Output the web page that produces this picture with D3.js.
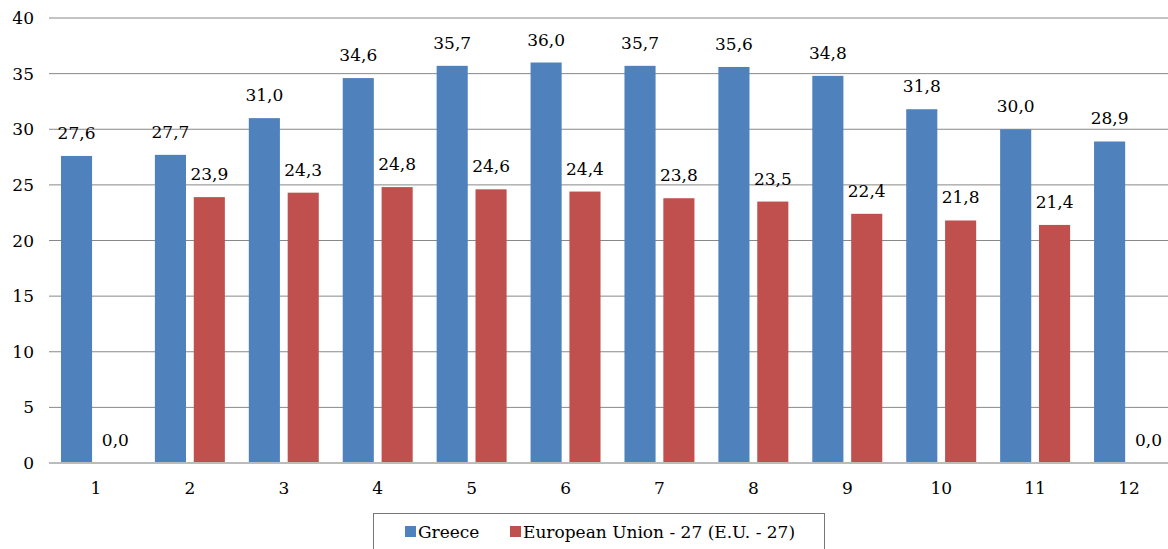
<!DOCTYPE html>
<html>
<head>
<meta charset="utf-8">
<script src="https://cdn.jsdelivr.net/npm/d3@7"></script>
<style>
  body { margin: 0; background: #fff; }
  text { font-family: "DejaVu Serif", serif; fill: #000; }
</style>
</head>
<body>
<svg width="1168" height="549"></svg>
<script>
const categories = ["1", "2", "3", "4", "5", "6", "7", "8", "9", "10", "11", "12"];
const seriesNames = ["Greece", "European Union - 27 (E.U. - 27)"];
const greece = [27.6, 27.7, 31.0, 34.6, 35.7, 36.0, 35.7, 35.6, 34.8, 31.8, 30.0, 28.9];
const eu27 = [0.0, 23.9, 24.3, 24.8, 24.6, 24.4, 23.8, 23.5, 22.4, 21.8, 21.4, 0.0];
const yTicks = [0, 5, 10, 15, 20, 25, 30, 35, 40];
const colors = ["#4F81BD", "#C0504D"];

const svg = d3.select("svg");

const x = d3.scaleBand().domain(categories).range([49, 1176]).paddingInner(0.255).paddingOuter(0.1275);
const xs = d3.scaleBand().domain(seriesNames).range([0, x.bandwidth()]).paddingInner(0.2);
const y = d3.scaleLinear().domain([0, 40]).range([463, 18]);

const fmt = v => v.toFixed(1).replace(".", ",");

// gridlines
svg.append("g")
  .selectAll("line")
  .data(yTicks.filter(t => t > 0))
  .join("line")
  .attr("x1", 49).attr("x2", 1168)
  .attr("y1", d => y(d)).attr("y2", d => y(d))
  .attr("stroke", "#888").attr("stroke-width", 1);

// y labels
svg.append("g")
  .selectAll("text")
  .data(yTicks)
  .join("text")
  .attr("x", 34).attr("y", d => y(d) + 6)
  .attr("text-anchor", "end")
  .attr("font-size", 17)
  .text(d => d);

const data = categories.map((c, i) => ({ cat: c, values: [greece[i], eu27[i]] }));

const groups = svg.append("g")
  .selectAll("g")
  .data(data)
  .join("g")
  .attr("transform", d => `translate(${x(d.cat)},0)`);

groups.selectAll("rect")
  .data(d => d.values.map((v, j) => ({ v, s: seriesNames[j], j })))
  .join("rect")
  .attr("x", d => xs(d.s))
  .attr("width", xs.bandwidth())
  .attr("y", d => y(d.v))
  .attr("height", d => y(0) - y(d.v))
  .attr("fill", d => colors[d.j]);

groups.selectAll("text")
  .data(d => d.values.map((v, j) => ({ v, s: seriesNames[j], j })))
  .join("text")
  .attr("x", d => xs(d.s) + xs.bandwidth() / 2)
  .attr("y", d => y(d.v) - 17)
  .attr("text-anchor", "middle")
  .attr("font-size", 17)
  .text(d => fmt(d.v));

// baseline axis
svg.append("line")
  .attr("x1", 49).attr("x2", 1168)
  .attr("y1", y(0)).attr("y2", y(0))
  .attr("stroke", "#bbb").attr("stroke-width", 2);

// x labels
svg.append("g")
  .selectAll("text")
  .data(categories)
  .join("text")
  .attr("x", d => x(d) + x.bandwidth() / 2)
  .attr("y", 494)
  .attr("text-anchor", "middle")
  .attr("font-size", 17)
  .text(d => d);

// legend
const legend = svg.append("g");
legend.append("rect")
  .attr("x", 373.5).attr("y", 513.5).attr("width", 451).attr("height", 40)
  .attr("fill", "none").attr("stroke", "#777").attr("stroke-width", 1);
const legendX = [405, 510];
seriesNames.forEach((name, i) => {
  legend.append("rect")
    .attr("x", legendX[i]).attr("y", 526).attr("width", 11).attr("height", 11)
    .attr("fill", colors[i]);
  legend.append("text")
    .attr("x", legendX[i] + 13).attr("y", 538)
    .attr("font-size", 17)
    .text(name);
});
</script>
</body>
</html>
